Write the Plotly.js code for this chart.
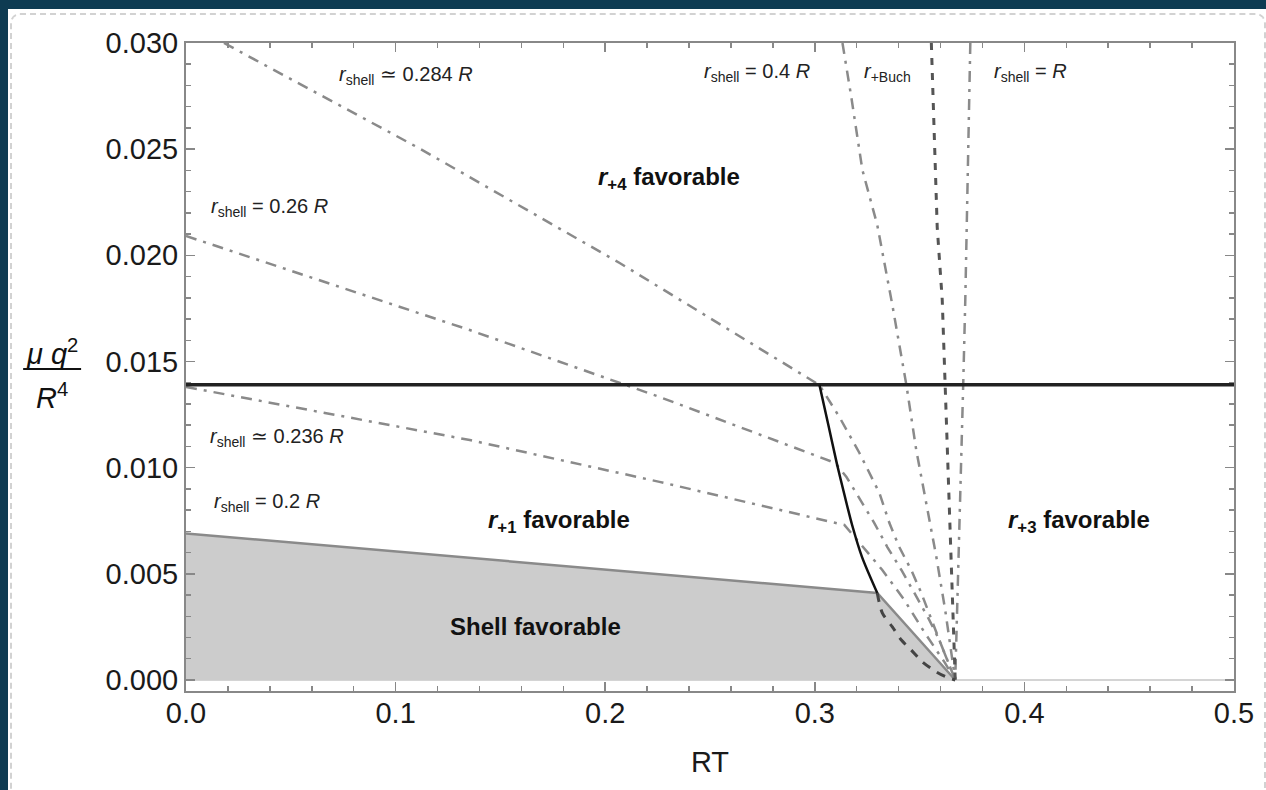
<!DOCTYPE html>
<html><head><meta charset="utf-8">
<script src="https://cdn.plot.ly/plotly-3.0.1.min.js"></script>
<style>
html,body{margin:0;padding:0;background:#0e3b52;width:1266px;height:790px;overflow:hidden;}
#panel{position:absolute;left:8px;top:9px;width:1258px;height:781px;background:#fff;}
#dash{position:absolute;left:10px;top:13px;width:1256px;height:800px;border:2px dashed #d2d2d2;border-radius:10px;box-sizing:border-box;}
#chart{position:absolute;left:0;top:0;width:1266px;height:790px;}
</style></head>
<body>
<div id="panel"></div><div id="dash"></div>
<div id="chart"></div>
<script>
// ---- data ----
const thresholdX = [0, 0.5];
const thresholdY = [0.0139, 0.0139];

const shellX = [0, 0.3298, 0.367];                 // r_shell = 0.2 R boundary
const shellY = [0.0069, 0.0041, 0];

const blackCurveX = [0.3022, 0.3065, 0.3105, 0.3142, 0.3178, 0.3225, 0.3298];
const blackCurveY = [0.0139, 0.0120, 0.0102, 0.0087, 0.0073, 0.0058, 0.0041];

const dashLowX = [0.3298, 0.3322, 0.337, 0.3413, 0.346, 0.3513, 0.358, 0.3627, 0.367];
const dashLowY = [0.0041, 0.00316, 0.0025, 0.00188, 0.00141, 0.00085, 0.00038, 0.00014, 0];

const buchX = [0.3556, 0.3584, 0.3608, 0.3622, 0.3642, 0.3656, 0.367];
const buchY = [0.030, 0.02133, 0.0179, 0.01389, 0.00871, 0.00391, 0];

const shellRX = [0.3742, 0.3727, 0.3718, 0.3708, 0.3694, 0.368, 0.367];
const shellRY = [0.030, 0.02133, 0.0179, 0.01389, 0.00871, 0.0039, 0];

const shell04X = [0.3132, 0.3174, 0.3227, 0.3298, 0.337, 0.3437, 0.3484, 0.3527, 0.358, 0.3622, 0.367];
const shell04Y = [0.030, 0.02746, 0.02402, 0.02143, 0.01766, 0.01389, 0.01083, 0.00862, 0.00579, 0.0033, 0];

const shell0284X = [0.0181, 0.1111, 0.2069, 0.3022, 0.3117, 0.3213, 0.3308, 0.3356, 0.3403, 0.3460, 0.3508, 0.3556, 0.3603, 0.367];
const shell0284Y = [0.030, 0.02505, 0.01964, 0.01389, 0.01239, 0.01069, 0.00881, 0.00739, 0.00626, 0.00518, 0.0041, 0.00283, 0.00165, 0];

const shell026X = [0, 0.1354, 0.2259, 0.3098, 0.3151, 0.3198, 0.3284, 0.3346, 0.3413, 0.3475, 0.3546, 0.3594, 0.367];
const shell026Y = [0.02091, 0.01648, 0.01333, 0.01022, 0.00956, 0.00881, 0.00739, 0.00626, 0.00518, 0.0041, 0.00283, 0.00188, 0];

const shell0236X = [0, 0.1354, 0.2259, 0.3141, 0.3222, 0.3322, 0.3427, 0.3522, 0.3618, 0.367];
const shell0236Y = [0.0138, 0.0113, 0.00933, 0.0073, 0.00636, 0.00518, 0.00377, 0.00226, 0.00085, 0];

const labelTexts = [
  '<i>r</i><sub>shell</sub> ≃ 0.284 <i>R</i>',
  '<i>r</i><sub>shell</sub> = 0.4 <i>R</i>',
  '<i>r</i><sub>+Buch</sub>',
  '<i>r</i><sub>shell</sub> = <i>R</i>',
  '<i>r</i><sub>shell</sub> = 0.26 <i>R</i>',
  '<i>r</i><sub>shell</sub> ≃ 0.236 <i>R</i>',
  '<i>r</i><sub>shell</sub> = 0.2 <i>R</i>'
];
const labelX = [0.1049, 0.2726, 0.3346, 0.4028, 0.0396, 0.0434, 0.0387];
const labelY = [0.02849, 0.02863, 0.02863, 0.02863, 0.02223, 0.01144, 0.00834];

const regionTexts = [
  '<b><i>r</i><sub>+4</sub> favorable</b>',
  '<b><i>r</i><sub>+1</sub> favorable</b>',
  '<b><i>r</i><sub>+3</sub> favorable</b>',
  '<b>Shell favorable</b>'
];
const regionX = [0.2302, 0.1778, 0.4261, 0.1668];
const regionY = [0.02364, 0.00744, 0.00744, 0.00254];

// ---- styles ----
const gray = '#8a8a8a';
const dashDot = '11px,7px,3px,7px';
function line(x, y, color, width, dash, extra) {
  return Object.assign({x: x, y: y, type: 'scatter', mode: 'lines', hoverinfo: 'skip',
    line: {color: color, width: width, dash: dash}}, extra || {});
}

const traces = [
  line(shellX, shellY, gray, 2.5, 'solid', {fill: 'tozeroy', fillcolor: '#cccccc'}),
  line(shell0284X, shell0284Y, gray, 2.5, dashDot),
  line(shell026X, shell026Y, gray, 2.5, dashDot),
  line(shell0236X, shell0236Y, gray, 2.5, dashDot),
  line(shell04X, shell04Y, gray, 2.5, dashDot),
  line(shellRX, shellRY, gray, 2.5, dashDot),
  line(buchX, buchY, '#555555', 3, '7px,8px'),
  line(dashLowX, dashLowY, '#444444', 3, '9px,8px'),
  line(thresholdX, thresholdY, '#222222', 3.5, 'solid'),
  line(blackCurveX, blackCurveY, '#111111', 2.5, 'solid')
];
traces[7].line.shape = 'spline';
traces[7].line.smoothing = 0.8;
traces[9].line.shape = 'spline';
traces[9].line.smoothing = 0.8;

const annotations = [];
labelTexts.forEach((t, i) => annotations.push({x: labelX[i], y: labelY[i], xref: 'x', yref: 'y',
  text: t, showarrow: false, font: {size: 20, color: '#222'}}));
regionTexts.forEach((t, i) => annotations.push({x: regionX[i], y: regionY[i], xref: 'x', yref: 'y',
  text: t, showarrow: false, font: {size: 24, color: '#111'}}));
// y-axis fraction title
annotations.push({xref: 'paper', yref: 'paper', x: -0.1277, y: 0.5231, text: '<i>μ q</i><sup>2</sup>',
  showarrow: false, font: {size: 29, color: '#111'}, xanchor: 'center', yanchor: 'middle'});
annotations.push({xref: 'paper', yref: 'paper', x: -0.1277, y: 0.4552, text: '<i>R</i><sup>4</sup>',
  showarrow: false, font: {size: 29, color: '#111'}, xanchor: 'center', yanchor: 'middle'});

const axisCommon = {
  ticks: 'inside', ticklen: 9, tickwidth: 1.5, tickcolor: '#888',
  showline: true, linecolor: '#888', linewidth: 2, mirror: 'ticks', showgrid: false,
  tickfont: {size: 29, color: '#1a1a1a'}
};

const layout = {
  width: 1266, height: 790,
  margin: {l: 186, r: 32, t: 43, b: 99},
  paper_bgcolor: 'rgba(0,0,0,0)', plot_bgcolor: 'rgba(0,0,0,0)',
  showlegend: false,
  font: {family: 'Liberation Sans, Arial, sans-serif', size: 29, color: '#1a1a1a'},
  xaxis: Object.assign({}, axisCommon, {
    range: [0, 0.5], tick0: 0, dtick: 0.1, tickformat: '.1f', zeroline: false,
    ticklabelstandoff: -5,
    minor: {dtick: 0.02, ticks: 'inside', ticklen: 5, tickwidth: 1.5, tickcolor: '#888'},
    title: {text: 'RT', font: {size: 29, color: '#1a1a1a'}, standoff: 24}
  }),
  yaxis: Object.assign({}, axisCommon, {
    range: [-0.00052, 0.030], tick0: 0, dtick: 0.005, tickformat: '.3f',
    zeroline: true, zerolinecolor: '#d4d4d4', zerolinewidth: 2,
    minor: {dtick: 0.001, ticks: 'inside', ticklen: 5, tickwidth: 1.5, tickcolor: '#888'}
  }),
  shapes: [{type: 'line', xref: 'paper', yref: 'paper', x0: -0.1554, x1: -0.1001, y0: 0.4969, y1: 0.4969,
    line: {color: '#111', width: 2}}],
  annotations: annotations
};

Plotly.newPlot('chart', traces, layout, {staticPlot: true, displayModeBar: false});
</script>
</body></html>
